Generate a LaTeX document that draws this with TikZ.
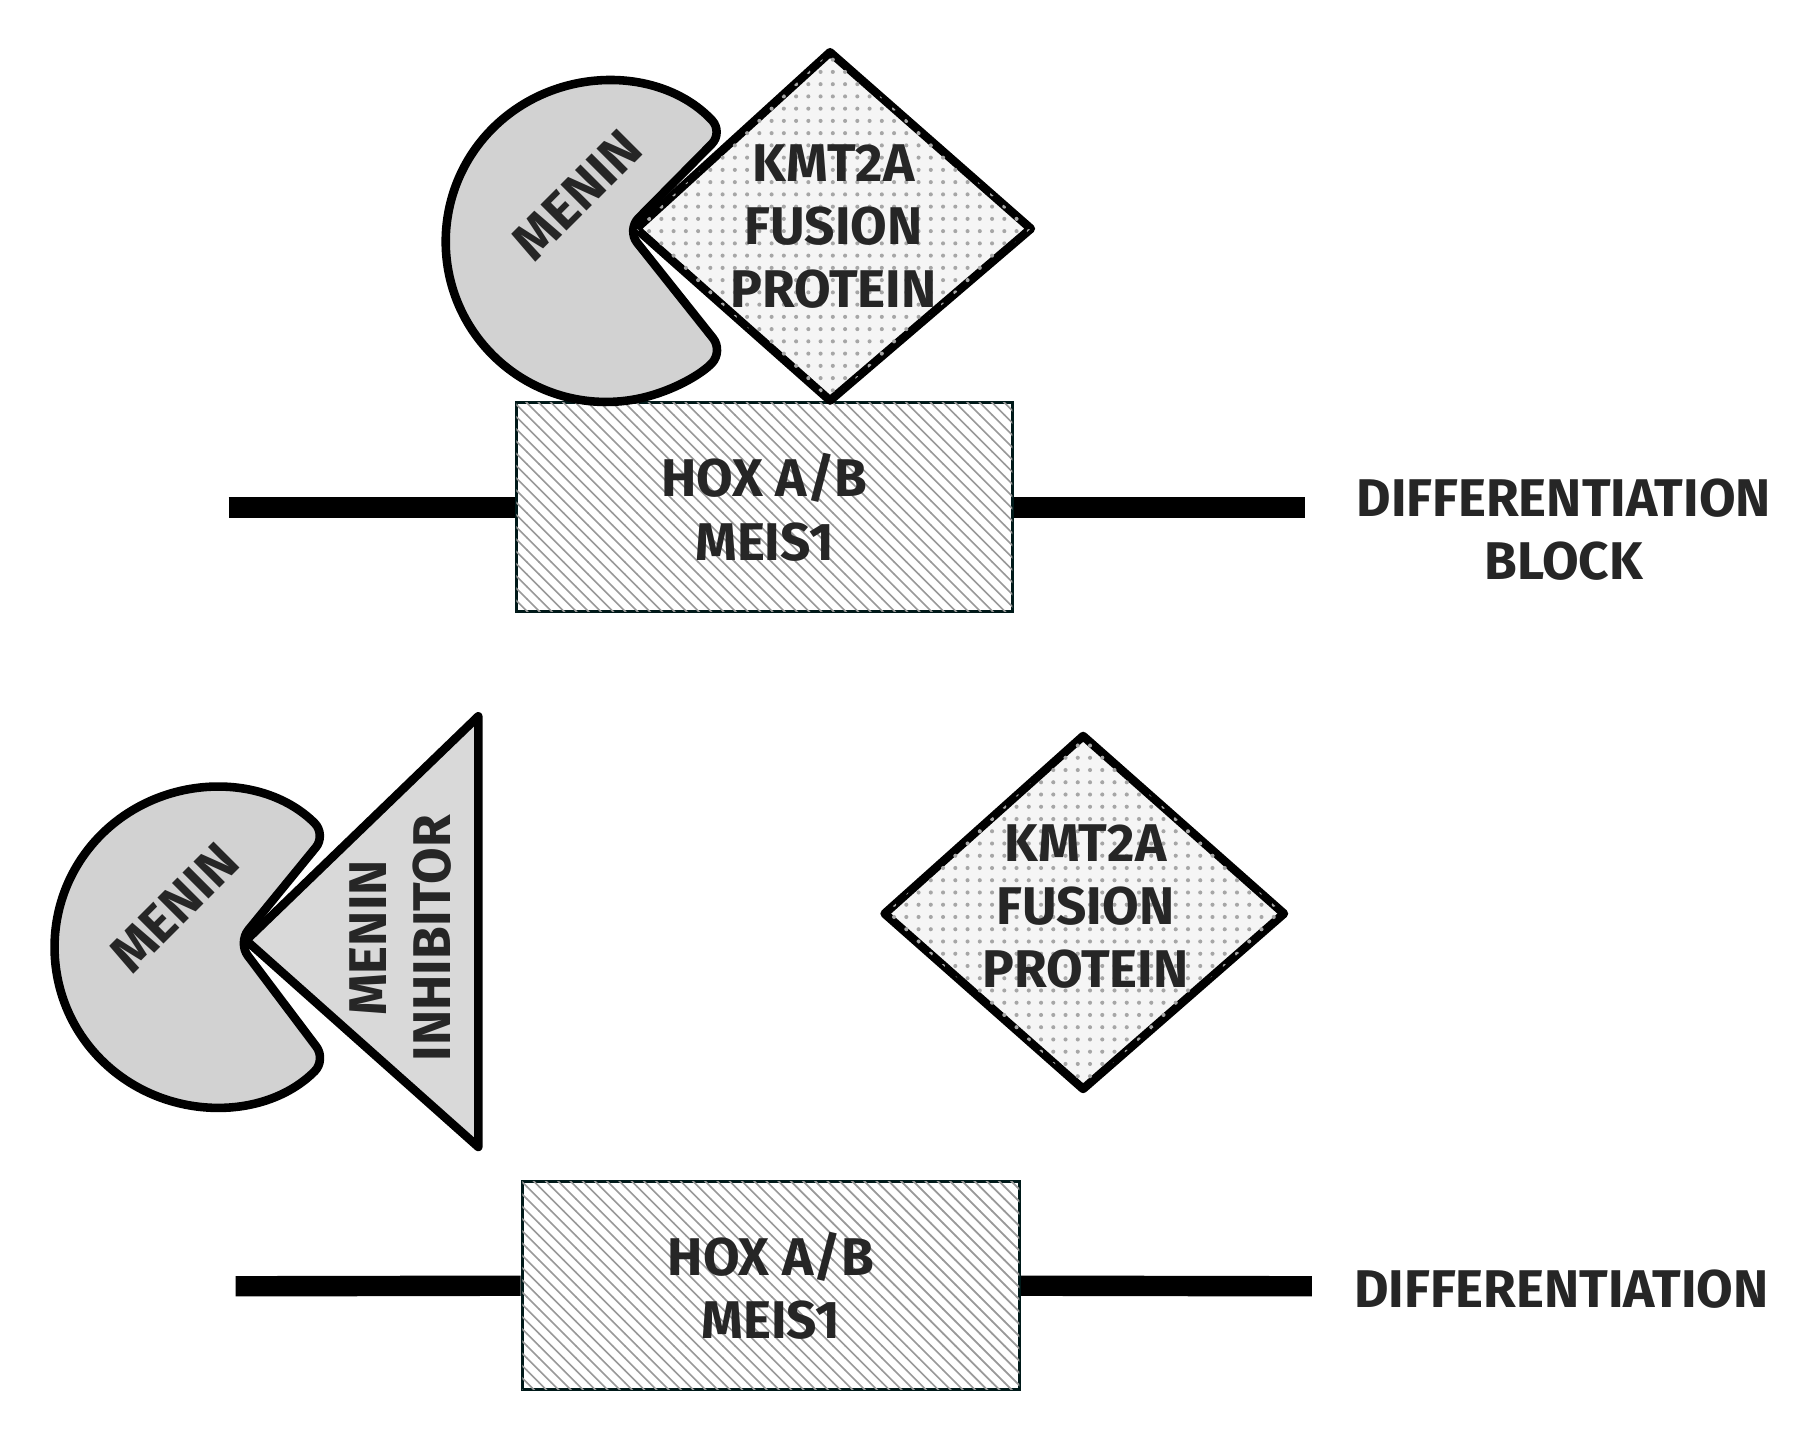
\documentclass[tikz,border=0pt]{standalone}
\usepackage{fontspec}
\setmainfont{Fira Sans}
\usetikzlibrary{patterns}
\begin{document}
\begin{tikzpicture}[x=0.01cm,y=-0.01cm,
  outl/.style={line width=2.1pt,line join=round,draw=black},
  menin/.style={outl,fill=gray!35,rounded corners=4pt},
  kmt/.style={outl,fill=gray!8,postaction={pattern=dots,pattern color=gray!70}},
  gene/.style={draw=black!80!teal,line width=0.8pt,fill=white,postaction={pattern=north west lines,pattern color=gray!80}},
  dna/.style={line width=5pt},
  lbl/.style={font=\bfseries\fontsize{13}{15.5}\selectfont,align=center,text=black!85}]
\useasboundingbox (0,0) rectangle (1560,1233);
% top
\coordinate (dl1) at (197,437); \coordinate (dr1) at (1124,437);
\node[gene,minimum width=4.27cm,minimum height=1.8cm,lbl] (g1) at (658.5,437) {HOX A/B\\MEIS1};
\draw[dna] (dl1) -- (g1.west); \draw[dna] (g1.east) -- (dr1);
\draw[menin] (540,198) -- (623,114) arc[start angle=43,end angle=317,radius=1.38cm] -- cycle;
\node[lbl,rotate=45] (m1) at (497,168) {MENIN};
\draw[kmt] (715,45) -- (888,197) -- (715,345) -- (548,197) -- cycle;
\node[lbl] (k1) at (718,195) {KMT2A\\FUSION\\PROTEIN};
\node[lbl] (t1) at (1347,456) {DIFFERENTIATION\\BLOCK};
% bottom
\coordinate (dl2) at (203,1108); \coordinate (dr2) at (1130,1108);
\node[gene,minimum width=4.28cm,minimum height=1.79cm,lbl] (g2) at (664,1107.5) {HOX A/B\\MEIS1};
\draw[dna] (dl2) -- (g2.west); \draw[dna] (g2.east) -- (dr2);
\draw[menin] (205,812) -- (281,719) arc[start angle=45,end angle=315,radius=1.37cm] -- cycle;
\node[lbl,rotate=45] (m2) at (150,782) {MENIN};
\draw[outl,fill=gray!30] (412,617) -- (412,988) -- (212,810) -- cycle;
\node[lbl,rotate=90] (i1) at (345,808) {MENIN\\INHIBITOR};
\draw[kmt] (933,634) -- (1106,787) -- (933,938) -- (762,787) -- cycle;
\node[lbl] (k2) at (935,781) {KMT2A\\FUSION\\PROTEIN};
\node[lbl] (t2) at (1345,1110) {DIFFERENTIATION};
\end{tikzpicture}
\end{document}
